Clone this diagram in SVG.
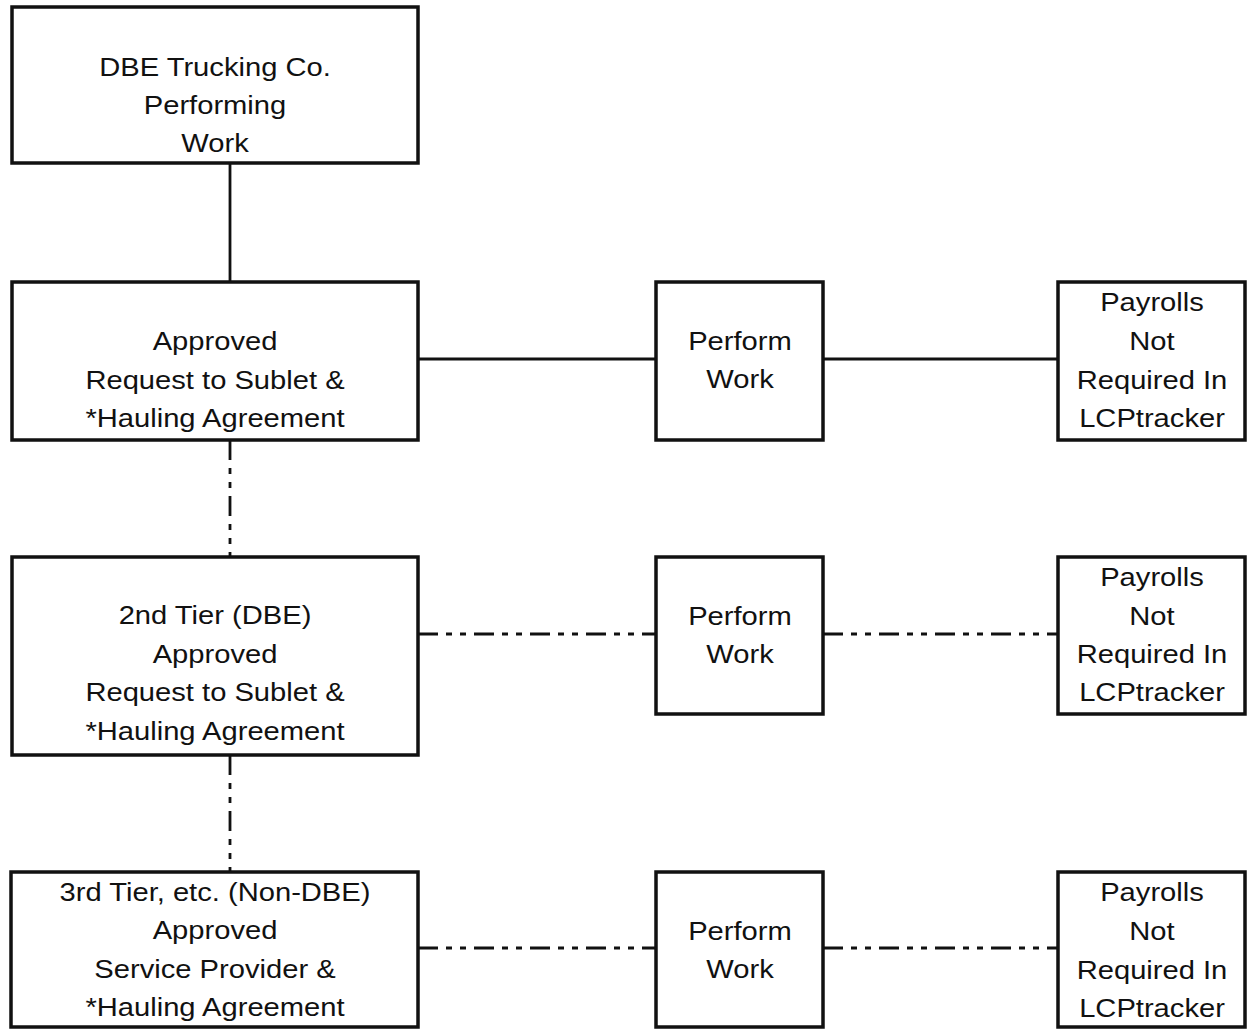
<svg xmlns="http://www.w3.org/2000/svg" width="1247" height="1029" viewBox="0 0 1247 1029">
<style>
.box{fill:#fff;stroke:#111;stroke-width:3.5}
.t{font-family:"Liberation Sans",Arial,sans-serif;font-size:26.5px;fill:#111;text-anchor:middle}
.solid{stroke:#111;stroke-width:2.8;fill:none}
.dd{stroke:#111;stroke-width:2.8;fill:none;stroke-dasharray:20 8 6 8 6 8}
</style>
<rect width="1247" height="1029" fill="#fff"/>
<g id="connectors">
<line class="solid" x1="230" y1="163" x2="230" y2="282"/>
<line class="dd" x1="230" y1="440" x2="230" y2="557"/>
<line class="dd" x1="230" y1="755" x2="230" y2="872"/>
<line class="solid" x1="418" y1="359" x2="656" y2="359"/>
<line class="solid" x1="823" y1="359" x2="1058" y2="359"/>
<line class="dd" x1="418" y1="634" x2="656" y2="634"/>
<line class="dd" x1="823" y1="634" x2="1058" y2="634"/>
<line class="dd" x1="418" y1="948" x2="656" y2="948"/>
<line class="dd" x1="823" y1="948" x2="1058" y2="948"/>
</g>
<g id="top">
<rect class="box" x="12" y="7" width="406" height="156"/>
<text class="t" transform="translate(215,0) scale(1.1,1)"><tspan x="0" y="76">DBE Trucking Co.</tspan><tspan x="0" y="114">Performing</tspan><tspan x="0" y="152">Work</tspan></text>
</g>
<g id="tier1">
<rect class="box" x="12" y="282" width="406" height="158"/>
<text class="t" transform="translate(215,0) scale(1.1,1)"><tspan x="0" y="350">Approved</tspan><tspan x="0" y="389">Request to Sublet &amp;</tspan><tspan x="0" y="427">*Hauling Agreement</tspan></text>
</g>
<g id="perform1">
<rect class="box" x="656" y="282" width="167" height="158"/>
<text class="t" transform="translate(740,0) scale(1.1,1)"><tspan x="0" y="350">Perform</tspan><tspan x="0" y="388">Work</tspan></text>
</g>
<g id="payroll1">
<rect class="box" x="1058" y="282" width="187" height="158"/>
<text class="t" transform="translate(1152,0) scale(1.1,1)"><tspan x="0" y="311">Payrolls</tspan><tspan x="0" y="350">Not</tspan><tspan x="0" y="389">Required In</tspan><tspan x="0" y="427">LCPtracker</tspan></text>
</g>
<g id="tier2">
<rect class="box" x="12" y="557" width="406" height="198"/>
<text class="t" transform="translate(215,0) scale(1.1,1)"><tspan x="0" y="624">2nd Tier (DBE)</tspan><tspan x="0" y="663">Approved</tspan><tspan x="0" y="701">Request to Sublet &amp;</tspan><tspan x="0" y="740">*Hauling Agreement</tspan></text>
</g>
<g id="perform2">
<rect class="box" x="656" y="557" width="167" height="157"/>
<text class="t" transform="translate(740,0) scale(1.1,1)"><tspan x="0" y="625">Perform</tspan><tspan x="0" y="663">Work</tspan></text>
</g>
<g id="payroll2">
<rect class="box" x="1058" y="557" width="187" height="157"/>
<text class="t" transform="translate(1152,0) scale(1.1,1)"><tspan x="0" y="586">Payrolls</tspan><tspan x="0" y="625">Not</tspan><tspan x="0" y="663">Required In</tspan><tspan x="0" y="701">LCPtracker</tspan></text>
</g>
<g id="tier3">
<rect class="box" x="11" y="872" width="407" height="155"/>
<text class="t" transform="translate(215,0) scale(1.1,1)"><tspan x="0" y="901">3rd Tier, etc. (Non-DBE)</tspan><tspan x="0" y="939">Approved</tspan><tspan x="0" y="978">Service Provider &amp;</tspan><tspan x="0" y="1016">*Hauling Agreement</tspan></text>
</g>
<g id="perform3">
<rect class="box" x="656" y="872" width="167" height="155"/>
<text class="t" transform="translate(740,0) scale(1.1,1)"><tspan x="0" y="940">Perform</tspan><tspan x="0" y="978">Work</tspan></text>
</g>
<g id="payroll3">
<rect class="box" x="1058" y="872" width="187" height="155"/>
<text class="t" transform="translate(1152,0) scale(1.1,1)"><tspan x="0" y="901">Payrolls</tspan><tspan x="0" y="940">Not</tspan><tspan x="0" y="979">Required In</tspan><tspan x="0" y="1017">LCPtracker</tspan></text>
</g>
</svg>
